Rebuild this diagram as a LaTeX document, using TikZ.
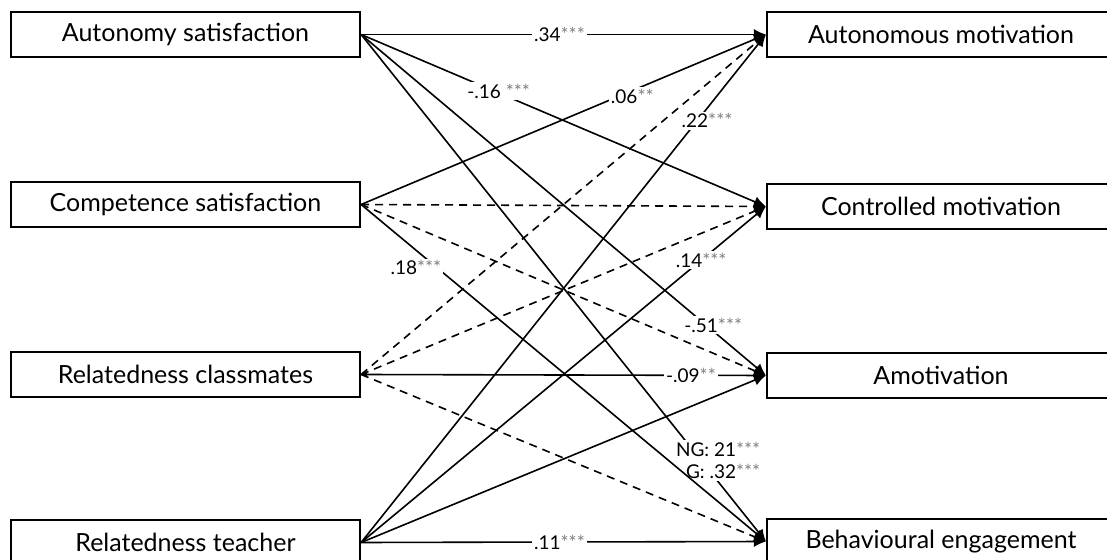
\documentclass[tikz,border=0pt]{standalone}
\usepackage{fontspec}
\setmainfont{Lato}
\usetikzlibrary{arrows.meta}

\tikzset{
  var/.style = {draw, line width=1.1pt, minimum width=174.5pt, minimum height=22.5pt, inner sep=0pt, font=\fontsize{12.5}{14}\selectfont},
  eff/.style = {draw, line width=0.8pt, -{Latex[length=6pt,width=5.5pt]}},
  ns/.style = {eff, dash pattern=on 4pt off 3pt},
  back/.style = {{Latex[length=3pt,width=3pt]}-{Latex[length=6pt,width=5.5pt]}},
  coef/.style = {fill=white, inner sep=1pt, font=\fontsize{9.5}{11}\selectfont}
}
\newcommand{\sig}[1]{\textcolor{gray}{#1}}

\begin{document}
\begin{tikzpicture}[x=0.5pt, y=-0.5pt]
\useasboundingbox (0,0) rectangle (1107,560);
% needs
\node[var](aut)at(185.5,34.5){Autonomy satisfaction};
\node[var](com)at(185.5,204.5){Competence satisfaction};
\node[var](rcl)at(185.5,374.5){Relatedness classmates};
\node[var](rte)at(185.5,542.5){Relatedness teacher};
% outcomes
\node[var, minimum width=174pt](amo)at(941,34.5){Autonomous motivation};
\node[var, minimum width=174pt](con)at(941,206.5){Controlled motivation};
\node[var, minimum width=174pt](amt)at(941,375.5){Amotivation};
\node[var, minimum width=174pt](beh)at(941,541.5){Behavioural engagement};
% non significant paths
\path[ns](com.east)to(con.west);
\path[ns](com.east)to(amt.west);
\path[ns](rcl.east)to(amo.west);
\path[ns](rcl.east)to(con.west);
\path[ns](rcl.east)to(beh.west);
% autonomy satisfaction
\path[eff](aut.east)to node[coef, pos=0.49]{.34\sig{***}}(amo.west);
\path[eff](aut.east)to node[coef, pos=0.34, yshift=1pt]{-.16 \sig{***}}(con.west);
\path[eff](aut.east)to node[coef, pos=0.87, yshift=3pt]{-.51\sig{***}}(amt.west);
\path[eff](aut.east)to node[coef, pos=0.84, xshift=8.5pt, align=right]{NG: 21\sig{***}\\G: .32\sig{***}}(beh.west);
% competence satisfaction
\path[eff](com.east)to node[coef, pos=0.67, yshift=-3pt]{.06\sig{**}}(amo.west);
\path[eff](com.east)to node[coef, pos=0.17, xshift=-7pt, yshift=-3pt]{.18\sig{***}}(beh.west);
% relatedness
\path[eff, back](rcl.east)to node[coef, pos=0.815]{-.09\sig{**}}(amt.west);
\path[eff](rte.east)to node[coef, pos=0.83, xshift=5pt]{.22\sig{***}}(amo.west);
\path[eff](rte.east)to node[coef, pos=0.84]{.14\sig{***}}(con.west);
\path[eff](rte.east)to(amt.west);
\path[eff](rte.east)to node[coef, pos=0.49]{.11\sig{***}}(beh.west);
\end{tikzpicture}
\end{document}
